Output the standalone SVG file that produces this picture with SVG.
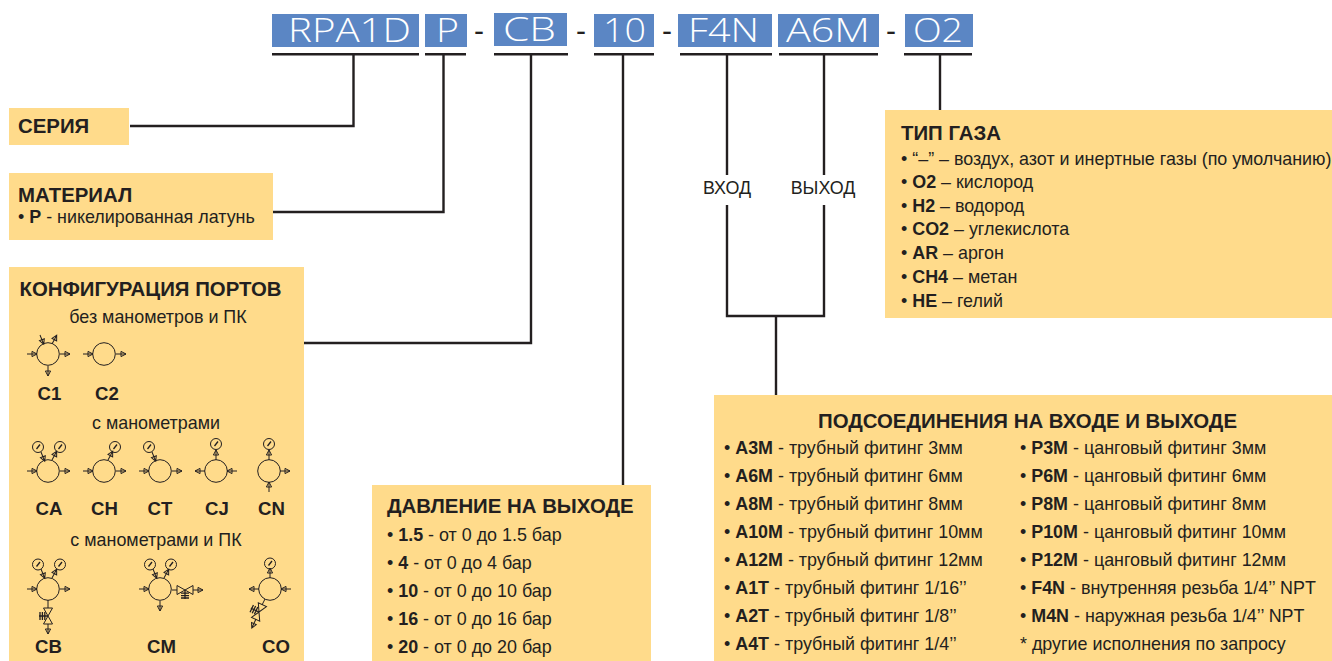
<svg xmlns="http://www.w3.org/2000/svg" xmlns:xlink="http://www.w3.org/1999/xlink" width="1332" height="661" viewBox="0 0 1332 661">
<style>
text{font-family:"Liberation Sans",Arial,sans-serif;fill:#231f20;font-size:17.9px}
.b{font-weight:700}
.h{font-weight:700;font-size:20.4px}
.code{font-family:"Open Sans","Liberation Sans",Arial,sans-serif;font-weight:300;font-size:33.5px;fill:#fff}
.d{font-size:30px}
.c{text-anchor:middle}
.l{font-weight:700;font-size:18.6px;text-anchor:middle}
.box{fill:#ffdb8b}
.tag{fill:#5b86c4}
.con{fill:none;stroke:#231f20;stroke-width:2.4}
.ul{stroke:#231f20;stroke-width:2.4}
.s{fill:none;stroke:#231f20;stroke-width:1}
.sp{fill:none;stroke:#231f20;stroke-width:1.3}
</style>
<defs>
<g id="ar"><path class="s" d="M0 0H10M5 -2.6L10 0L5 2.6Z"/></g>
<g id="ga"><circle class="s" r="5.5"/><path class="sp" d="M-1.5 2L2 -2.5"/></g>
<g id="va"><path class="s" d="M-8 -4.5L0 0L-8 4.5ZM8 -4.5L0 0L8 4.5Z"/><path class="sp" d="M0 0V9M-4 3.2H4M-4 5.6H4M-4 8H4"/></g>
</defs>
<g id="tags">
<rect class="tag" x="272" y="14" width="147" height="33"/>
<rect class="tag" x="425" y="14" width="42" height="33"/>
<rect class="tag" x="494" y="13" width="73" height="33"/>
<rect class="tag" x="594" y="14" width="60" height="33"/>
<rect class="tag" x="678" y="14" width="94" height="33"/>
<rect class="tag" x="778" y="14" width="101" height="33"/>
<rect class="tag" x="905" y="14" width="68" height="33"/>
<text class="code" x="288" y="42" textLength="123" lengthAdjust="spacingAndGlyphs">RPA1D</text>
<text class="code" x="436" y="42" textLength="23" lengthAdjust="spacingAndGlyphs">P</text>
<text class="code" x="503" y="41" textLength="53" lengthAdjust="spacingAndGlyphs">CB</text>
<text class="code" x="603" y="42" textLength="43" lengthAdjust="spacingAndGlyphs">10</text>
<text class="code" x="688" y="42" textLength="71" lengthAdjust="spacingAndGlyphs">F4N</text>
<text class="code" x="786" y="42" textLength="84" lengthAdjust="spacingAndGlyphs">A6M</text>
<text class="code" x="913" y="42" textLength="50" lengthAdjust="spacingAndGlyphs">O2</text>
<text class="d" x="474" y="41">-</text>
<text class="d" x="576" y="41">-</text>
<text class="d" x="662" y="41">-</text>
<text class="d" x="886" y="41">-</text>
</g>
<g id="connectors">
<path class="ul" d="M272 54.300H419M425 54.300H466M494 54.300H568M594 54.300H654M680 54.300H772M779 54.300H878M904 54.300H972"/>
<path class="con" d="M130 126H353.500V54"/>
<path class="con" d="M273 212H443.500V54"/>
<path class="con" d="M304 343H531V54"/>
<path class="con" d="M623 54V485"/>
<path class="con" d="M727 54V175M727 205V316H824V205M824 175V54"/>
<path class="con" d="M776 316V395"/>
<path class="con" d="M940 54V110"/>
</g>
<g id="seriya"><rect class="box" x="9" y="108" width="120" height="37"/><text class="h" x="18" y="133">СЕРИЯ</text></g>
<g id="material"><rect class="box" x="9" y="173" width="264" height="67"/><text class="h" x="18" y="202">МАТЕРИАЛ</text><text x="18" y="223">• <tspan class="b">P</tspan> - никелированная латунь</text></g>
<g id="vhod"><text x="727" y="194" class="c">ВХОД</text></g>
<g id="vyhod"><text x="823" y="194" class="c">ВЫХОД</text></g>
<g id="config">
<rect class="box" x="9" y="267" width="295" height="394"/>
<text class="h c" x="150.500" y="296">КОНФИГУРАЦИЯ ПОРТОВ</text>
<text class="c" x="158" y="323">без манометров и ПК</text>
<text class="c" x="156" y="429">с манометрами</text>
<text class="c" x="156" y="546">с манометрами и ПК</text>
<text class="l" x="49.500" y="399.500">C1</text><text class="l" x="107" y="399.500">C2</text>
<text class="l" x="49" y="514.500">CA</text><text class="l" x="104.500" y="514.500">CH</text><text class="l" x="160" y="514.500">CT</text><text class="l" x="217" y="514.500">CJ</text><text class="l" x="271.500" y="514.500">CN</text>
<text class="l" x="48.500" y="652.500">CB</text><text class="l" x="161.500" y="652.500">CM</text><text class="l" x="276" y="652.500">CO</text>
<g id="sym-c1"><circle class="s" cx="48" cy="354" r="11.3"/><use href="#ar" transform="translate(27 354)"/><use href="#ar" transform="translate(60 354)"/><use href="#ar" transform="translate(48 366) rotate(90)"/><use href="#ar" transform="translate(40 335) rotate(68)"/><use href="#ar" transform="translate(52 344) rotate(-62)"/></g>
<g id="sym-c2"><circle class="s" cx="104" cy="354" r="11.3"/><use href="#ar" transform="translate(83 354)"/><use href="#ar" transform="translate(116 354)"/></g>
<g id="sym-ca"><circle class="s" cx="48" cy="471" r="11.3"/><use href="#ar" transform="translate(27 471)"/><use href="#ar" transform="translate(60 471)"/><use href="#ga" x="38" y="447"/><use href="#ga" x="60" y="447"/><use href="#ar" transform="translate(41 452) rotate(68)"/><use href="#ar" transform="translate(52 460) rotate(-62)"/></g>
<g id="sym-ch"><circle class="s" cx="104" cy="471" r="11.3"/><use href="#ar" transform="translate(83 471)"/><use href="#ar" transform="translate(116 471)"/><use href="#ga" x="115" y="447"/><use href="#ar" transform="translate(108 460) rotate(-62)"/></g>
<g id="sym-ct"><circle class="s" cx="160" cy="471" r="11.3"/><use href="#ar" transform="translate(139 471)"/><use href="#ar" transform="translate(172 471)"/><use href="#ga" x="149" y="447"/><use href="#ar" transform="translate(152 452) rotate(68)"/></g>
<g id="sym-cj"><circle class="s" cx="216" cy="471" r="11.3"/><use href="#ar" transform="translate(205 471) rotate(180)"/><use href="#ar" transform="translate(237 471) rotate(180)"/><use href="#ga" x="216" y="444"/><use href="#ar" transform="translate(216 460) rotate(-90)"/></g>
<g id="sym-cn"><circle class="s" cx="269" cy="471" r="11.3"/><use href="#ar" transform="translate(280 471)"/><use href="#ga" x="269" y="444"/><use href="#ar" transform="translate(269 460) rotate(-90)"/><use href="#ar" transform="translate(269 492) rotate(-90)"/></g>
<g id="sym-cb"><circle class="s" cx="48" cy="589" r="11.3"/><use href="#ar" transform="translate(27 589)"/><use href="#ar" transform="translate(60 589)"/><use href="#ga" x="38" y="564.5"/><use href="#ga" x="60" y="564.5"/><use href="#ar" transform="translate(41 569) rotate(68)"/><use href="#ar" transform="translate(52 578) rotate(-62)"/><path class="s" d="M48 600V608"/><use href="#va" transform="translate(48 616) rotate(90)"/><use href="#ar" transform="translate(48 624) rotate(90)"/></g>
<g id="sym-cm"><circle class="s" cx="160" cy="589" r="11.3"/><use href="#ar" transform="translate(139 589)"/><use href="#ga" x="150" y="564.5"/><use href="#ga" x="171" y="564.5"/><use href="#ar" transform="translate(153 569) rotate(68)"/><use href="#ar" transform="translate(164 578) rotate(-62)"/><use href="#ar" transform="translate(160 601) rotate(90)"/><path class="s" d="M172 590H177"/><use href="#va" transform="translate(185 590)"/><use href="#ar" transform="translate(193 590)"/></g>
<g id="sym-co"><circle class="s" cx="270" cy="589" r="11.3"/><use href="#ar" transform="translate(259 589) rotate(180)"/><use href="#ar" transform="translate(291 589) rotate(180)"/><use href="#ga" x="270" y="563.5"/><use href="#ar" transform="translate(270 578) rotate(-90)"/><path class="s" d="M265 599L262 605"/><use href="#va" transform="translate(259 612) rotate(115)"/><use href="#ar" transform="translate(256 619) rotate(115)"/></g>
</g>
<g id="davlenie">
<rect class="box" x="372" y="485" width="279" height="176"/>
<text class="h" x="387" y="513">ДАВЛЕНИЕ НА ВЫХОДЕ</text>
<text x="387" y="541">• <tspan class="b">1.5</tspan> - от 0 до 1.5 бар</text>
<text x="387" y="569">• <tspan class="b">4</tspan> - от 0 до 4 бар</text>
<text x="387" y="597">• <tspan class="b">10</tspan> - от 0 до 10 бар</text>
<text x="387" y="625">• <tspan class="b">16</tspan> - от 0 до 16 бар</text>
<text x="387" y="653">• <tspan class="b">20</tspan> - от 0 до 20 бар</text>
</g>
<g id="tip-gaza">
<rect class="box" x="885" y="110" width="447" height="208"/>
<text class="h" x="901" y="140">ТИП ГАЗА</text>
<text x="901" y="164.500">• “–” – воздух, азот и инертные газы (по умолчанию)</text>
<text x="901" y="188">• <tspan class="b">O2</tspan> – кислород</text>
<text x="901" y="212">• <tspan class="b">H2</tspan> – водород</text>
<text x="901" y="235">• <tspan class="b">CO2</tspan> – углекислота</text>
<text x="901" y="259">• <tspan class="b">AR</tspan> – аргон</text>
<text x="901" y="283">• <tspan class="b">CH4</tspan> – метан</text>
<text x="901" y="307">• <tspan class="b">HE</tspan> – гелий</text>
</g>
<g id="podsoedineniya">
<rect class="box" x="714" y="395" width="618" height="266"/>
<text class="h c" x="1027.500" y="428">ПОДСОЕДИНЕНИЯ НА ВХОДЕ И ВЫХОДЕ</text>
<text x="724" y="454">• <tspan class="b">A3M</tspan> - трубный фитинг 3мм</text>
<text x="724" y="482">• <tspan class="b">A6M</tspan> - трубный фитинг 6мм</text>
<text x="724" y="510">• <tspan class="b">A8M</tspan> - трубный фитинг 8мм</text>
<text x="724" y="538">• <tspan class="b">A10M</tspan> - трубный фитинг 10мм</text>
<text x="724" y="566">• <tspan class="b">A12M</tspan> - трубный фитинг 12мм</text>
<text x="724" y="594">• <tspan class="b">A1T</tspan> - трубный фитинг 1/16’’</text>
<text x="724" y="622">• <tspan class="b">A2T</tspan> - трубный фитинг 1/8’’</text>
<text x="724" y="650">• <tspan class="b">A4T</tspan> - трубный фитинг 1/4’’</text>
<text x="1020" y="454">• <tspan class="b">P3M</tspan> - цанговый фитинг 3мм</text>
<text x="1020" y="482">• <tspan class="b">P6M</tspan> - цанговый фитинг 6мм</text>
<text x="1020" y="510">• <tspan class="b">P8M</tspan> - цанговый фитинг 8мм</text>
<text x="1020" y="538">• <tspan class="b">P10M</tspan> - цанговый фитинг 10мм</text>
<text x="1020" y="566">• <tspan class="b">P12M</tspan> - цанговый фитинг 12мм</text>
<text x="1020" y="594">• <tspan class="b">F4N</tspan> - внутренняя резьба 1/4’’ NPT</text>
<text x="1020" y="622">• <tspan class="b">M4N</tspan> - наружная резьба 1/4’’ NPT</text>
<text x="1020" y="650">* другие исполнения по запросу</text>
</g>
</svg>
